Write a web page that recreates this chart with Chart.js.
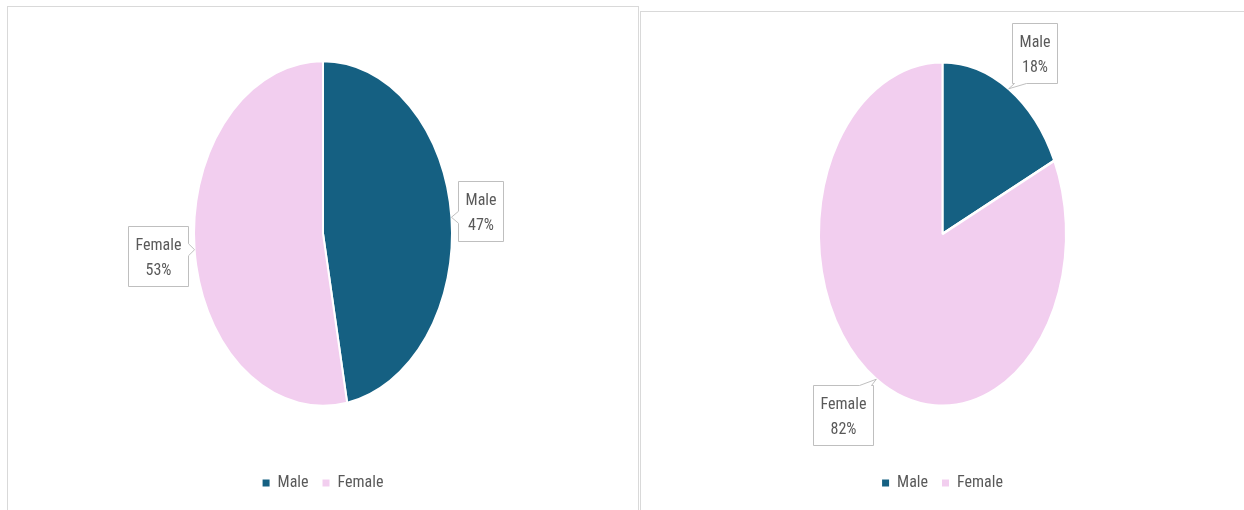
<!DOCTYPE html>
<html>
<head>
<meta charset="utf-8">
<script src="https://cdn.jsdelivr.net/npm/chart.js@4.4.1/dist/chart.umd.min.js"></script>
<style>
  html, body { margin: 0; padding: 0; background: #fff; width: 1244px; height: 510px; overflow: hidden; }
  .panel { position: absolute; border: 1px solid #d9d9d9; box-sizing: border-box; }
  canvas { position: absolute; }
</style>
</head>
<body>
<div class="panel" style="left:7px; top:6px; width:632px; height:530px;"></div>
<div class="panel" style="left:640px; top:11px; width:620px; height:530px;"></div>
<canvas id="pie1" width="629" height="503" style="left:8px; top:7px;"></canvas>
<canvas id="pie2" width="603" height="498" style="left:641px; top:12px;"></canvas>
<script>
const categories = ['Male', 'Female'];
const seriesLeft = [47, 53];
const seriesRight = [18, 82];
const colors = ['#156082', '#F2CEEF'];

const FONT = "'Roboto Condensed', 'Roboto', sans-serif";
const TEXT = '#595959';

// stretch the round pie into an ellipse that fills the chart area
const ellipsePlugin = {
    id: 'ellipse',
    beforeDatasetsDraw(chart) {
        const a = chart.chartArea;
        const arc = chart.getDatasetMeta(0).data[0];
        const r = arc.outerRadius;
        const s = (r + (a.height - a.width) / 2) / r;
        chart.$sy = s;
        const ctx = chart.ctx;
        ctx.save();
        ctx.translate(0, arc.y);
        ctx.scale(1, s);
        ctx.translate(0, -arc.y);
    },
    afterDatasetsDraw(chart) {
        chart.ctx.restore();
    }
};

// excel style callout labels
const calloutPlugin = {
    id: 'callout',
    afterDraw(chart) {
        const ctx = chart.ctx;
        const data = chart.data.datasets[0].data;
        const total = data.reduce((a, b) => a + b, 0);
        const s = chart.$sy || 1;
        ctx.save();
        ctx.font = '16px ' + FONT;
        chart.getDatasetMeta(0).data.forEach((arc, i) => {
            const m = (arc.startAngle + arc.endAngle) / 2;
            const c = Math.cos(m), sn = Math.sin(m);
            const r = arc.outerRadius;
            const tip = { x: arc.x + r * c, y: arc.y + r * s * sn };
            const l1 = chart.data.labels[i];
            const l2 = Math.round(data[i] / total * 100) + '%';
            const w = Math.round(Math.max(ctx.measureText(l1).width, ctx.measureText(l2).width) + 14);
            const h = 60;
            const g = 7;
            const ax = tip.x + g * c, ay = tip.y + g * sn;
            const f = v => Math.min(1, Math.abs(v) / 0.5) * Math.sign(v);
            const cx = ax + f(c) * w / 2, cy = ay + f(sn) * h / 2;
            const x0 = Math.round(cx - w / 2) + 0.5, x1 = x0 + w;
            const y0 = Math.round(cy - h / 2) + 0.5, y1 = y0 + h;

            const dl = x0 - tip.x, dr = tip.x - x1, dt = y0 - tip.y, db = tip.y - y1;
            const side = Math.max(dl, dr, dt, db);
            const hw = 6;
            const clampY = Math.min(Math.max(tip.y, y0 + hw + 2), y1 - hw - 2);
            const clampX = Math.min(Math.max(tip.x, x0 + hw + 2), x1 - hw - 2);
            let pts;
            if (side === dl) pts = [[x0, y0], [x1, y0], [x1, y1], [x0, y1], [x0, clampY + hw], [tip.x, tip.y], [x0, clampY - hw]];
            else if (side === dr) pts = [[x0, y0], [x1, y0], [x1, clampY - hw], [tip.x, tip.y], [x1, clampY + hw], [x1, y1], [x0, y1]];
            else if (side === dt) pts = [[x0, y0], [clampX - hw, y0], [tip.x, tip.y], [clampX + hw, y0], [x1, y0], [x1, y1], [x0, y1]];
            else pts = [[x0, y0], [x1, y0], [x1, y1], [clampX + hw, y1], [tip.x, tip.y], [clampX - hw, y1], [x0, y1]];

            ctx.beginPath();
            pts.forEach((p, k) => k ? ctx.lineTo(p[0], p[1]) : ctx.moveTo(p[0], p[1]));
            ctx.closePath();
            ctx.fillStyle = '#fff';
            ctx.fill();
            ctx.strokeStyle = '#bfbfbf';
            ctx.lineWidth = 1;
            ctx.stroke();

            ctx.fillStyle = TEXT;
            ctx.textAlign = 'center';
            ctx.textBaseline = 'middle';
            const mx = (x0 + x1) / 2, my = (y0 + y1) / 2;
            ctx.fillText(l1, mx, my - 11);
            ctx.fillText(l2, mx, my + 14);
        });
        ctx.restore();
    }
};

function makePie(id, values, pad) {
    new Chart(document.getElementById(id), {
        type: 'pie',
        data: { labels: categories, datasets: [{ data: values, backgroundColor: colors, borderColor: '#fff', borderWidth: 2, clip: false }] },
        options: {
            responsive: false,
            animation: false,
            devicePixelRatio: 1,
            layout: { padding: pad },
            plugins: {
                tooltip: { enabled: false },
                legend: {
                    position: 'bottom',
                    title: { display: true, text: '', font: { size: 12, lineHeight: 1 }, padding: { top: 42, bottom: 0 } },
                    labels: {
                        boxWidth: 7, boxHeight: 7, padding: 14, color: TEXT, font: { family: FONT, size: 16 },
                        generateLabels(chart) {
                            return Chart.overrides.pie.plugins.legend.labels.generateLabels(chart)
                                .map(l => Object.assign(l, { lineWidth: 0, strokeStyle: l.fillStyle }));
                        }
                    }
                }
            }
        },
        plugins: [ellipsePlugin, calloutPlugin]
    });
}

makePie('pie1', seriesLeft, { left: 185, right: 184, top: 53, bottom: 9 });
makePie('pie2', seriesRight, { left: 177, right: 177, top: 49, bottom: 9 });
</script>
</body>
</html>
